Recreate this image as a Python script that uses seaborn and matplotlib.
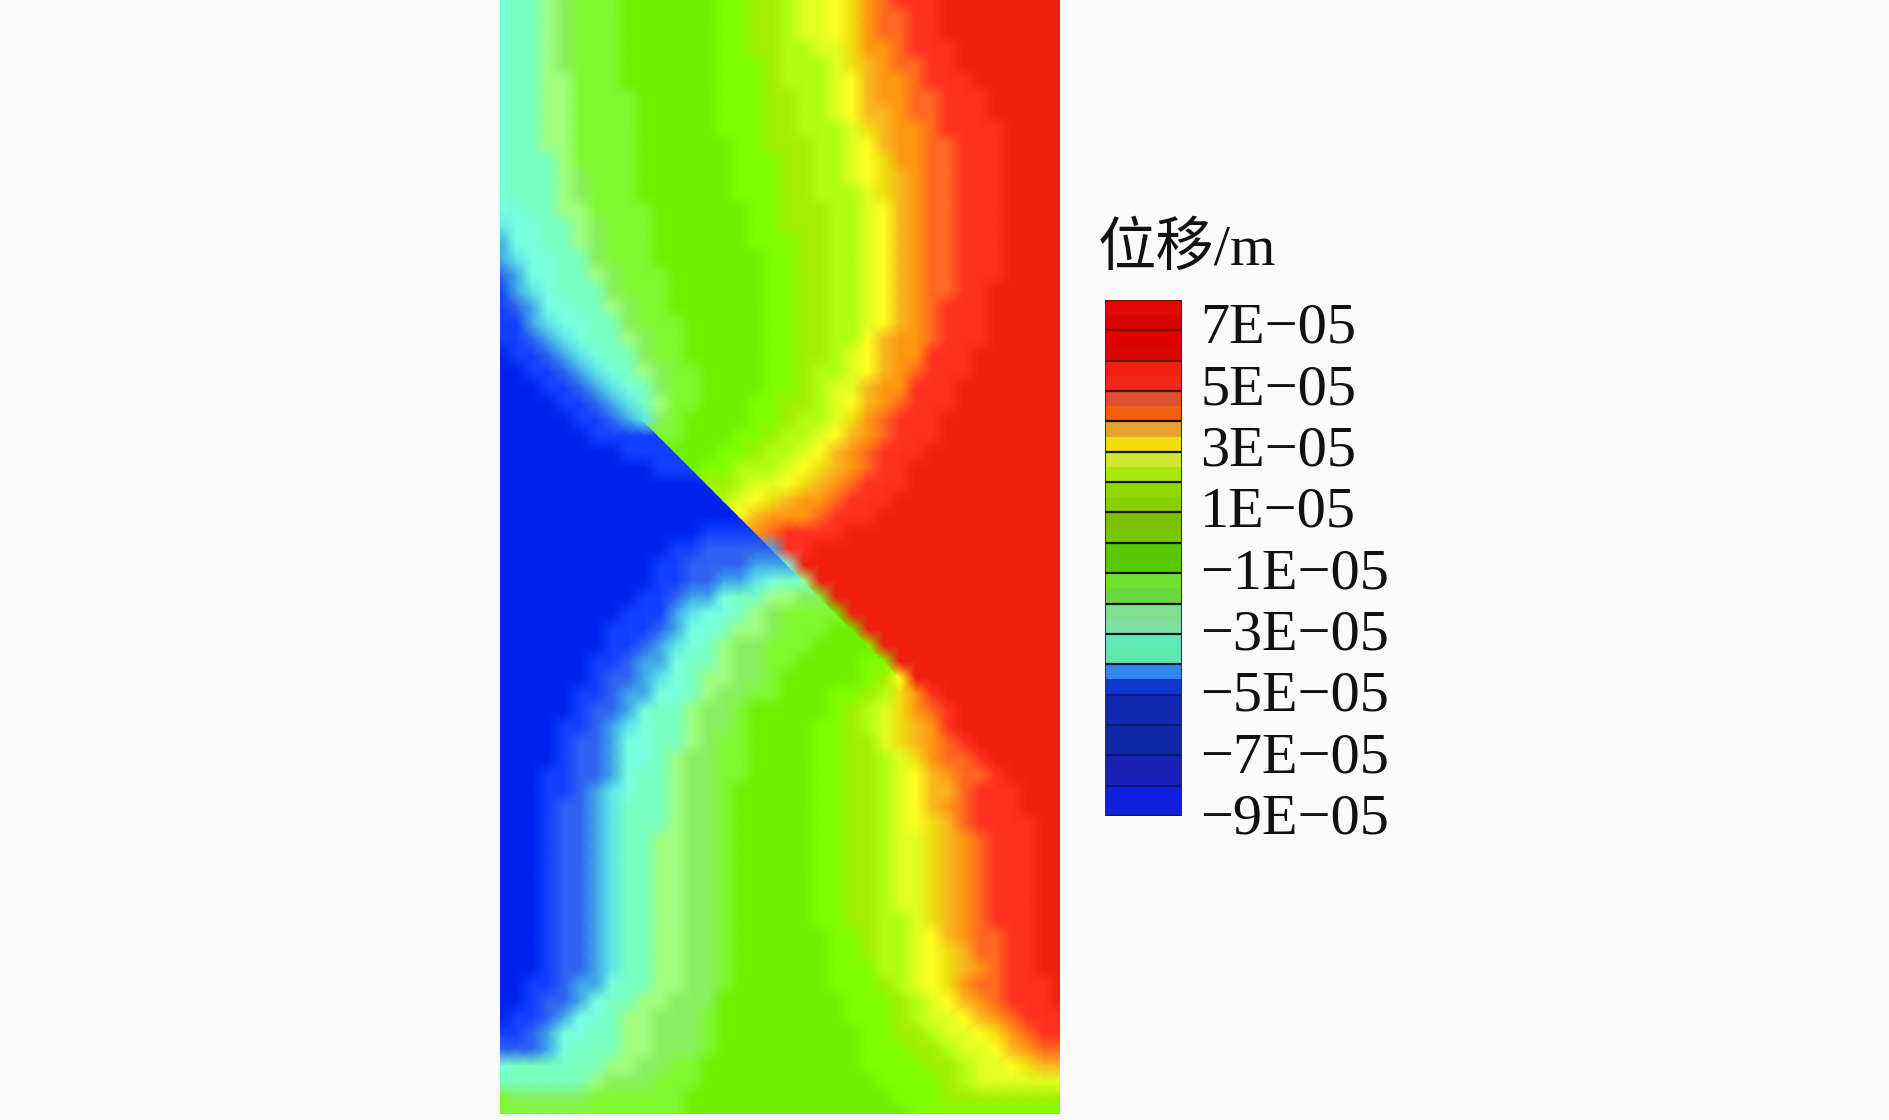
import numpy as np
import matplotlib
matplotlib.use('Agg')
import matplotlib.pyplot as plt
import seaborn as sns
from matplotlib.colors import ListedColormap
from matplotlib.patches import Polygon

# displacement bands of the contour field, lowest first
BAND_KEYS = 'abcdefghijklmnopqrstuv'
BAND_COLORS = ['#0022ee', '#1040ff', '#2e62f0', '#40a8e8', '#60e8e8', '#78ffe0', '#78ffc0',
               '#a0ff80', '#88f060', '#80f830', '#6ef000', '#80ff00', '#a0f000', '#b0ff10',
               '#e0ff20', '#ffff20', '#f0e010', '#f8b820', '#ff9810', '#ff6820', '#ff3020',
               '#f01e0e']

# band read at each node of the model, top row first
FIELD_ROWS = [
    'fgghijjjkkkkkkllmmnoopqstuuuvvvvvvvv',
    'fgghijjjkkkkkkllmmnoopqsttuuvvvvvvvv',
    'fgghijjjkkkkkkllmmnoopqsttuuvvvvvvvv',
    'fgghijjjkkkkkkllmmnnooqsstuuuvvvvvvv',
    'fgghijjjkkkkkklllmnnnoqrsttuuvvvvvvv',
    'fgghhjjjkkkkkklllmnnnoprsstuuuvvvvvv',
    'fgghhjjjjkkkkklllmmnnoprssttuuuvvvvv',
    'fgghhjjjjkkkkklllmmnnoprrsttuuuvvvvv',
    'fgghhjjjjkkkkklllmmnnnoqrsstuuuuvvvv',
    'fgghhjjjjkkkkkkllmmmnnoprssttuuuvvvv',
    'fggghjjjjkkkkkklllmmnnopqssttuuuvvvv',
    'fggghijjjkkkkkklllmmnnopqrsttuuuvvvv',
    'fggghijjjkkkkkklllmmnnnoqrsttuuuvvvv',
    'ffgghhjjjjkkkkkkllmmmnnoprsttuuuvvvv',
    'effgghijjjkkkkkkllmmmnnoprsttuuuvvvv',
    'dffgghijjjkkkkkklllmmnnoprsttuuuvvvv',
    'deffggijjjkkkkkkkllmmnnoprsttuuuvvvv',
    'cdffgghijjjkkkkkkllmmnnoprsttuuuvvvv',
    'bdefgggijjjkkkkkkllmmnnoprsttuuvvvvv',
    'bcdffgghijjkkkkkkllmmnnoprstuuuvvvvv',
    'bbdeffggijjjkkkkkllmmnnoprstuuuvvvvv',
    'bbcdefgghijjkkkkkllmmnnprsstuuuvvvvv',
    'abbcdefggijjkkkkkllmmnoprssuuuvvvvvv',
    'aabbcdefghijjkkkkllmnnoprstuuuvvvvvv',
    'aaabbcdefgijjkkkkllmnoorssuuuvvvvvvv',
    'aaaabbcdeghjjkkkllmmnoprstuuuvvvvvvv',
    'aaaaabbcdeijkkkkllmnnoqstuuuvvvvvvvv',
    'aaaaaabbbbjjkkkllmnnoprstuuuvvvvvvvv',
    'aaaaaaaabbbkkkllmnnoprstuuuvvvvvvvvv',
    'aaaaaaaaaabbkllnnnopqrstuuvvvvvvvvvv',
    'aaaaaaaaaaaaammnoopqrstuuuvvvvvvvvvv',
    'aaaaaaaaaaaaaanopqrsstuuuvvvvvvvvvvv',
    'aaaaaaaaaaaaaaaprssstuuuvvvvvvvvvvvv',
    'aaaaaaaaaaaaabbbstuuuuvvvvvvvvvvvvvv',
    'aaaaaaaaaaabbccccduuvvvvvvvvvvvvvvvv',
    'aaaaaaaaaabbccccddfvvvvvvvvvvvvvvvvv',
    'aaaaaaaaaabbccddefghvvvvvvvvvvvvvvvv',
    'aaaaaaaaabbcddfgghhijvvvvvvvvvvvvvvv',
    'aaaaaaaabbbdeffghijjjkvvvvvvvvvvvvvv',
    'aaaaaaabbbcdffghhijjjkkvvvvvvvvvvvvv',
    'aaaaaaabbcdefghiijjjkkklvvvvvvvvvvvv',
    'aaaaaabbcddfgghiijjkkkkllvvvvvvvvvvv',
    'aaaaaabccdefghhiijkkkkklmpvvvvvvvvvv',
    'aaaaabbcddffghiijjkkkllmnqsuvvvvvvvv',
    'aaaaabccdfgghiijkkkkklmnoqstuvvvvvvv',
    'aaaabbcdefgghiijkkkkllmnoqrsuvvvvvvv',
    'aaaabccdffgghijjkkkkllmmoqrstuvvvvvv',
    'aaaabccdffghiijjkkkkllmmnoqsttuvvvvv',
    'aaabbccdfgghiijjkkkkllmmnoprsttuvvvv',
    'aaabbcdefgghiijkkkkkllmmnoprrtuuuvvv',
    'aaabccdeggghiijkkkkkllmmnoprstuuuvvv',
    'aaabccdeggghiijkkkkkllmmnopqrtuuuuvv',
    'aaabccdegghhiijkkkkkllmmnooqrstuuuvv',
    'aaabccdegghhiijkkkkkllmmnooqrstuuuvv',
    'aaabccdegghhiijkkkkkllmmnooqrstuuuvv',
    'aaabccdegghhiijkkkkkllmmnooqrstuuuvv',
    'aaabccdegghhiijkkkkkllmmnooqrstuuuvv',
    'aaabccdegghhiijkkkkkllmmnnoqrstuuuvv',
    'aaabccdegghhiijkkkkkkllmnnoprsttuuvv',
    'aaabccdegghhiijkkkkkkllmnnopqrttuuvv',
    'aaabccdegghhiijkkkkkklllnnopqrstuuvv',
    'aabbcddfgghhiijkkkkkklllmnopqsttuuuv',
    'aabccdfgghhiiikkkkkkkklllmnoprstuuuv',
    'abbcdffghhiiijkkkkkkkklllmnooprstuuu',
    'bbcdffgghhiiijkkkkkkkkkllmmnoopqstuu',
    'cccdfggghhiiijkkkkkkkkklllmmnooprstt',
    'fgggggghhiijjkkkkkkkkkkllllmmnoopqrr',
    'gggggghiiijjjkkkkkkkkkkkllllmnoooooo',
    'jiiiiijjjjjjkkkkkkkkkkkkklllmmmmmmmm',
    'jjjjjjjjjjjjkkkkkkkkkkkkkkllllllllll',
]

# the slip surface, in node units (column, row)
FAULT_COL = [9.5, 25.0]
FAULT_ROW = [26.6, 42.0]

# legend
LEGEND_TITLE = '位移/m'
TICK_VALUES = [7, 5, 3, 1, -1, -3, -5, -7, -9]
TICK_LABELS = ['7E−05', '5E−05', '3E−05', '1E−05', '−1E−05', '−3E−05', '−5E−05', '−7E−05', '−9E−05']
LEGEND_TOP = 8
# two shades per legend segment, top segment first
LEGEND_COLORS = ['#e00800', '#d80400', '#e00000', '#d80800', '#f02010', '#f02818',
                 '#e05030', '#f06010', '#e8a030', '#f0de10', '#d0e830', '#a8e810',
                 '#90d800', '#88d000', '#78c000', '#78c800', '#58c800', '#58c800',
                 '#70e030', '#68d840', '#80e090', '#80e0a0', '#60e8b8', '#60e8b0',
                 '#3088f0', '#1038d0', '#1028b0', '#1028b0', '#1028a8', '#1028a8',
                 '#1820b0', '#1820b8', '#1020e0', '#1020d8']
# separators between segments, top edge first
LEGEND_LINES = ['#701000', '#701000', '#701000', '#401000', '#151515', '#151515',
                '#151515', '#151515', '#151515', '#151515', '#151515', '#151515',
                '#101830', '#0c1c80', '#0a1a70', '#0a1a70', '#0a1a70', '#0a1a80']

BG = '#fafafa'
W, H = 1890, 1120

sns.set_theme(style='white')
plt.rcParams['font.family'] = ['Liberation Serif', 'Noto Sans CJK SC']


def band_heatmap(values, ax):
    sns.heatmap(values, ax=ax, cmap=ListedColormap(BAND_COLORS), vmin=-0.5,
                vmax=len(BAND_COLORS) - 0.5, cbar=False, xticklabels=False,
                yticklabels=False, shading='gouraud', linewidths=0)
    ax.set_xlim(0, values.shape[1] - 1)
    ax.set_ylim(values.shape[0] - 1, 0)
    return ax.collections[-1]


field = np.array([[BAND_KEYS.index(ch) for ch in row] for row in FIELD_ROWS], dtype=float)

# the field jumps across the slip surface: each side gets its own mesh
lower_side = field.copy()
upper_side = field.copy()
for r in range(int(np.ceil(FAULT_ROW[0])), int(FAULT_ROW[1])):
    fc = np.interp(r, FAULT_ROW, FAULT_COL)
    left, right = int(np.floor(fc)), int(np.floor(fc)) + 1
    lower_side[r, right:] = field[r, left]
    upper_side[r, :right] = field[r, right]

fig = plt.figure(figsize=(W / 100, H / 100), dpi=100, facecolor=BG)

ax = fig.add_axes([500 / W, 1 - 1114 / H, 560 / W, 1114 / H])
band_heatmap(lower_side, ax)
mesh = band_heatmap(upper_side, ax)
last_col = field.shape[1] - 1
# carry the cut back to the last untouched row so the jump opens up gradually
slope = (FAULT_COL[1] - FAULT_COL[0]) / (FAULT_ROW[1] - FAULT_ROW[0])
start_row = np.floor(FAULT_ROW[0])
start_col = FAULT_COL[0] - (FAULT_ROW[0] - start_row) * slope
mesh.set_clip_path(Polygon([(start_col, start_row), (FAULT_COL[1], FAULT_ROW[1]),
                            (last_col, FAULT_ROW[1]), (last_col, 0), (start_col, 0)],
                           transform=ax.transData))

# legend bar
cax = fig.add_axes([1105 / W, 1 - 816 / H, 77 / W, 516 / H])
legend_vals = np.arange(len(LEGEND_COLORS))[:, None]
sns.heatmap(legend_vals, ax=cax, cmap=ListedColormap(LEGEND_COLORS), cbar=False,
            xticklabels=False, yticklabels=False)
cax.hlines(np.arange(0, len(LEGEND_COLORS) + 1, 2), 0, 1, colors=LEGEND_LINES, lw=1.6)
cax.vlines([0, 1], 0, len(LEGEND_COLORS), color='#20304a', lw=1.4)

# labels sit a little above their separators, more so towards the top of the bar
tick_pos = [(LEGEND_TOP - v) * 2 - 0.16 - 0.34 * (v + 9) / 16 for v in TICK_VALUES]
cax.yaxis.tick_right()
cax.set_yticks(tick_pos)
cax.set_yticklabels(TICK_LABELS, rotation=0, fontsize=42, color='#111111')
cax.tick_params(axis='y', length=0, pad=13)
for t in cax.get_yticklabels():
    t.set_ha('left')
    t.set_fontfamily(['Liberation Serif', 'DejaVu Sans'])

fig.text(1098 / W, 1 - 265 / H, LEGEND_TITLE, fontsize=42, color='#111111', ha='left', va='baseline')

fig.savefig('out.png', dpi=100, facecolor=BG)
